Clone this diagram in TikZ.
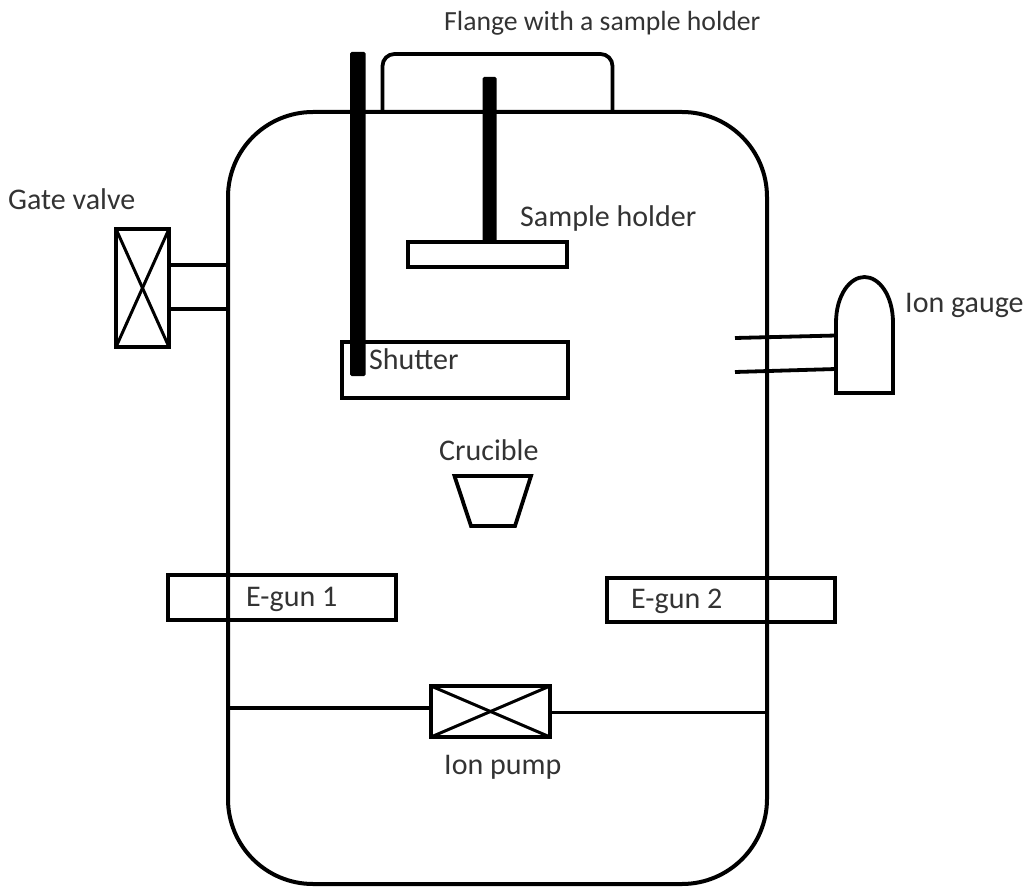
\documentclass[tikz,border=0pt]{standalone}
\usepackage{fontspec}
\setmainfont{Carlito}
\usetikzlibrary{positioning}

\begin{document}
\begin{tikzpicture}[
  x=1pt, y=-1pt,
  part/.style={draw, line width=4pt, minimum width=#1, inner sep=0pt, outer sep=0pt},
  rod/.style={fill=black, rounded corners=1.5pt, inner sep=0pt, outer sep=0pt},
  wire/.style={line width=3.8pt},
  thinwire/.style={line width=3pt},
  label/.style={anchor=base west, inner sep=0pt, text=black!80, font=\fontsize{30}{36}\selectfont}
]
\useasboundingbox (0,0) rectangle (1026,888);

% chamber and top flange
\node[part=539pt, minimum height=772pt, rounded corners=85pt] (chamber) at (497.5,498) {};
\coordinate (flangeL) at (382.5,112);
\coordinate (flangeR) at (612.5,112);
\draw[wire, rounded corners=12pt] (flangeL) -- (382.5,54) -- (612.5,54) -- (flangeR);

% rods
\node[rod, minimum width=15.5pt, minimum height=324pt] (shutterrod) at (357.8,214) {};
\node[rod, minimum width=14pt, minimum height=165pt] (samplerod) at (489.5,159.5) {};

% sample holder, shutter, crucible
\node[part=159pt, minimum height=25pt] (holder) at (487.5,254.5) {};
\node[part=226pt, minimum height=56pt] (shutter) at (455,370) {};
\draw[wire] (454.5,476) -- (531,476) -- (515,526) -- (471,526) -- cycle;

% gate valve
\node[part=53pt, minimum height=118pt] (valve) at (142.5,288) {};
\draw[thinwire] (valve.north west) -- (valve.south east);
\draw[thinwire] (valve.south west) -- (valve.north east);
\coordinate (valveA) at (228,265);
\coordinate (valveB) at (228,309);
\draw[wire] (valve.east |- valveA) -- (valveA);
\draw[wire] (valve.east |- valveB) -- (valveB);

% ion gauge
\draw[wire] (836,323) .. controls (836,295) and (850,277) .. (864.5,277)
  .. controls (879,277) and (893,295) .. (893,323) -- (893,393) -- (836,393) -- cycle;
\coordinate (gaugeA) at (836,335.5);
\coordinate (gaugeB) at (836,369);
\coordinate (gaugeC) at (735,338);
\coordinate (gaugeD) at (735,372);
\draw[wire] (gaugeC) -- (gaugeA);
\draw[wire] (gaugeD) -- (gaugeB);

% e-guns
\node[part=228pt, minimum height=45pt] (gun1) at (282,597.5) {};
\node[part=228pt, minimum height=44pt] (gun2) at (721,600) {};

% ion pump
\node[part=119pt, minimum height=51pt] (pump) at (490.5,711.5) {};
\draw[thinwire] (pump.north west) -- (pump.south east);
\draw[thinwire] (pump.south west) -- (pump.north east);
\coordinate (pumpL) at (228,708);
\coordinate (pumpR) at (767,712.5);
\draw[wire] (pumpL) -- (pump.west |- pumpL);
\draw[wire] (pump.east |- pumpR) -- (pumpR);

% labels
\node[label, font=\fontsize{27.7}{33}\selectfont] (flangelabel) at (444,31) {Flange with a sample holder};
\node[label] (valvelabel) at (8,209) {Gate valve};
\node[label] (holderlabel) at (520,226) {Sample holder};
\node[label] (gaugelabel) at (905,312) {Ion gauge};
\node[label] (shutterlabel) at (369,369) {Shutter};
\node[label] (cruciblelabel) at (439,460) {Crucible};
\node[label] (gun1label) at (246,606) {E-gun 1};
\node[label] (gun2label) at (631,608) {E-gun 2};
\node[label] (pumplabel) at (444,774) {Ion pump};
\end{tikzpicture}
\end{document}
